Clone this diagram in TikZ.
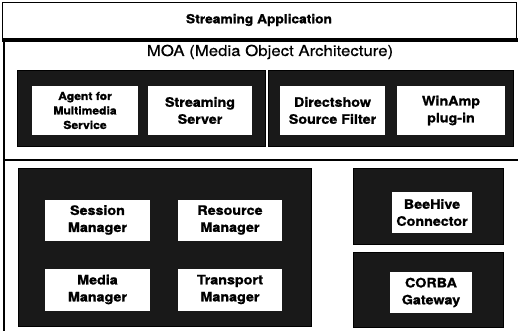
\documentclass[tikz,border=0pt]{standalone}
\usepackage{fontspec}
\setmainfont{TeX Gyre Heros}
\newfontfamily\heavyfont{TeX Gyre Heros}[FakeStretch=1.1, BoldFont={TeX Gyre Heros Bold}, BoldFeatures={FakeBold=1.2, FakeStretch=1.1}]
\newfontfamily\moafont{TeX Gyre Heros}[FakeStretch=1.12, FakeBold=0.5]
\begin{document}
\begin{tikzpicture}[x=1pt,y=-1pt,
  darkbox/.style={fill=black!90, draw=black, line width=0.6pt, inner sep=0pt},
  wbox/.style={fill=white, draw=none, inner sep=0pt, align=center,
    font=\heavyfont\fontsize{13}{17}\selectfont\bfseries},
  smallbox/.style={wbox, font=\heavyfont\fontsize{11}{14.5}\selectfont\bfseries},
  frameline/.style={line width=1.2pt}]
\useasboundingbox (0,0) rectangle (518,331);
% top application box
\node[draw, line width=0.8pt, minimum width=514pt, minimum height=36pt, inner sep=0pt,
  font=\heavyfont\fontsize{12.5}{14}\selectfont\bfseries] (app) at (259,20) {Streaming Application};
\fill (2,38) rectangle (518,42.5);
\coordinate (ltop) at (4,42);
\coordinate (lbot) at (4,331);
\draw[frameline] (ltop) -- (lbot);
\node[font=\moafont\fontsize{15}{17}\selectfont] (moa) at (270,52) {MOA (Media Object Architecture)};
% upper dark groups
\node[darkbox, minimum width=248pt, minimum height=76pt] (d1) at (141,108) {};
\node[darkbox, minimum width=245pt, minimum height=76pt] (d2) at (390.5,108) {};
\node[smallbox, minimum width=106pt, minimum height=49pt] (agent) at (85,110.5) {Agent for\\Multimedia\\Service};
\node[wbox, minimum width=104pt, minimum height=49pt] (stream) at (200,110.5) {Streaming\\Server};
\node[wbox, minimum width=105pt, minimum height=49pt] (dshow) at (332.5,110.5) {Directshow\\Source Filter};
\node[wbox, minimum width=108pt, minimum height=49pt] (winamp) at (451,110.5) {WinAmp\\plug-in};
% separator
\coordinate (hl) at (4,160);
\coordinate (hr) at (518,160);
\draw[line width=1.5pt] (hl) -- (hr);
% lower dark groups
\node[darkbox, minimum width=293pt, minimum height=158pt] (d3) at (164.5,247) {};
\node[wbox, minimum width=105pt, minimum height=41pt] (session) at (97.5,220) {Session\\Manager};
\node[wbox, minimum width=104pt, minimum height=41pt] (resource) at (230,220) {Resource\\Manager};
\node[wbox, minimum width=105pt, minimum height=42pt] (media) at (97.5,289.5) {Media\\Manager};
\node[wbox, minimum width=104pt, minimum height=42pt] (transport) at (230,289.5) {Transport\\Manager};
\node[darkbox, minimum width=150pt, minimum height=76pt] (d4) at (428,206) {};
\node[wbox, minimum width=80pt, minimum height=41pt] (beehive) at (432,212.5) {BeeHive\\Connector};
\node[darkbox, minimum width=150pt, minimum height=75pt] (d5) at (428,289.5) {};
\node[wbox, minimum width=82pt, minimum height=41pt] (corba) at (431,292.5) {CORBA\\Gateway};
\end{tikzpicture}
\end{document}
